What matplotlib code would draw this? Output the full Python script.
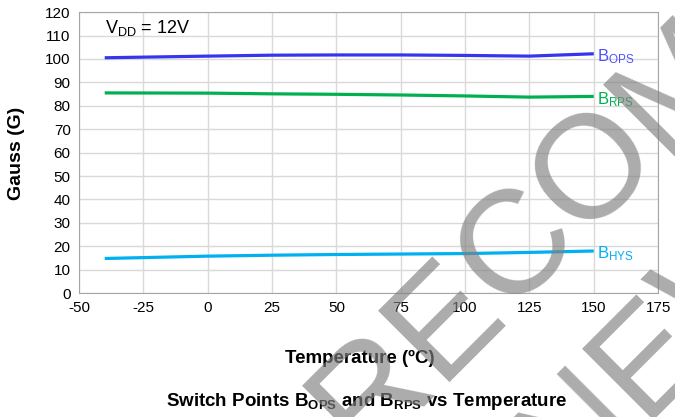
import matplotlib
matplotlib.use('Agg')
import matplotlib.pyplot as plt

# data
temps = [-40, 0, 25, 50, 75, 100, 125, 150]
bops = [100.5, 101.2, 101.6, 101.7, 101.7, 101.5, 101.2, 102.2]
brps = [85.5, 85.4, 85.1, 84.9, 84.6, 84.2, 83.7, 84.0]
bhys = [14.8, 15.8, 16.2, 16.5, 16.7, 16.9, 17.4, 18.0]
xticks = [-50, -25, 0, 25, 50, 75, 100, 125, 150, 175]
yticks = list(range(0, 121, 10))

plt.rcParams['font.family'] = ['Liberation Sans', 'DejaVu Sans']
plt.rcParams['axes.unicode_minus'] = False
plt.rcParams['mathtext.fontset'] = 'custom'
plt.rcParams['mathtext.rm'] = 'Liberation Sans'
plt.rcParams['mathtext.it'] = 'Liberation Sans'
plt.rcParams['mathtext.bf'] = 'Liberation Sans:bold'

W, H = 675, 417
fig = plt.figure(figsize=(W / 100, H / 100), dpi=100)
ax = fig.add_axes([0.117, 0.297, 0.858, 0.674])

series = [
    (bops, '#3535F0', '#4F4FFF', r'B$_{\mathrm{OPS}}$'),
    (brps, '#00B050', '#00B050', r'B$_{\mathrm{RPS}}$'),
    (bhys, '#00B0F0', '#00B0F0', r'B$_{\mathrm{HYS}}$'),
]
for vals, col, lcol, name in series:
    ax.plot(temps, vals, color=col, lw=2.3, solid_capstyle='butt')
    ax.annotate(name, xy=(temps[-1], vals[-1]), xytext=(2, -2),
                textcoords='offset points', ha='left', va='center',
                color=lcol, fontsize=12)

ax.set_xlim(-50, 175)
ax.set_ylim(0, 120)
ax.set_xticks(xticks)
ax.set_yticks(yticks)
ax.grid(True, color='#D9D9D9', lw=1)
ax.set_axisbelow(True)
for s in ax.spines.values():
    s.set_color('#A6A6A6')
ax.tick_params(length=0, labelsize=11, pad=6)

ax.text(-40, 113, r'V$_{\mathrm{DD}}$ = 12V', fontsize=13, va='center')

fig.text(0.024, 0.631, 'Gauss (G)', fontsize=14, fontweight='bold',
         rotation=90, ha='center', va='center')
fig.text(0.533, 0.141, 'Temperature (ºC)', fontsize=13.5, fontweight='bold', ha='center', va='center')
fig.text(0.543, 0.036,
         r'Switch Points B$_{\mathbf{OPS}}$ and B$_{\mathbf{RPS}}$ vs Temperature',
         fontsize=13.5, fontweight='bold', ha='center', va='center')

# watermark, letter by letter along a 45 deg line (pixel coords from top-left)
wm_size = 106
em = wm_size * 100 / 72
adv = {'R': .722, 'E': .667, 'C': .722, 'O': .778, 'M': .833, 'N': .722, 'W': .944}
d = (0.7071, -0.7071)


def watermark(word, ref_idx, cx, cy):
    pos = [0.0]
    for a, b in zip(word[:-1], word[1:]):
        pos.append(pos[-1] + (adv[a] + adv[b]) / 2 * em)
    for ch, p in zip(word, pos):
        s = p - pos[ref_idx]
        gx, gy = cx + s * d[0], cy + s * d[1]
        # move from glyph centre down to baseline
        bx, by = gx + 0.36 * em * 0.7071, gy + 0.36 * em * 0.7071
        fig.text(bx / W, 1 - by / H, ch, color='#808080', alpha=0.66,
                 fontsize=wm_size, rotation=45, rotation_mode='anchor',
                 ha='center', va='baseline', zorder=20)


watermark('RECOM', 2, 507, 237)
watermark('NEW', 1, 639, 348)

fig.savefig('out.png', dpi=100)
